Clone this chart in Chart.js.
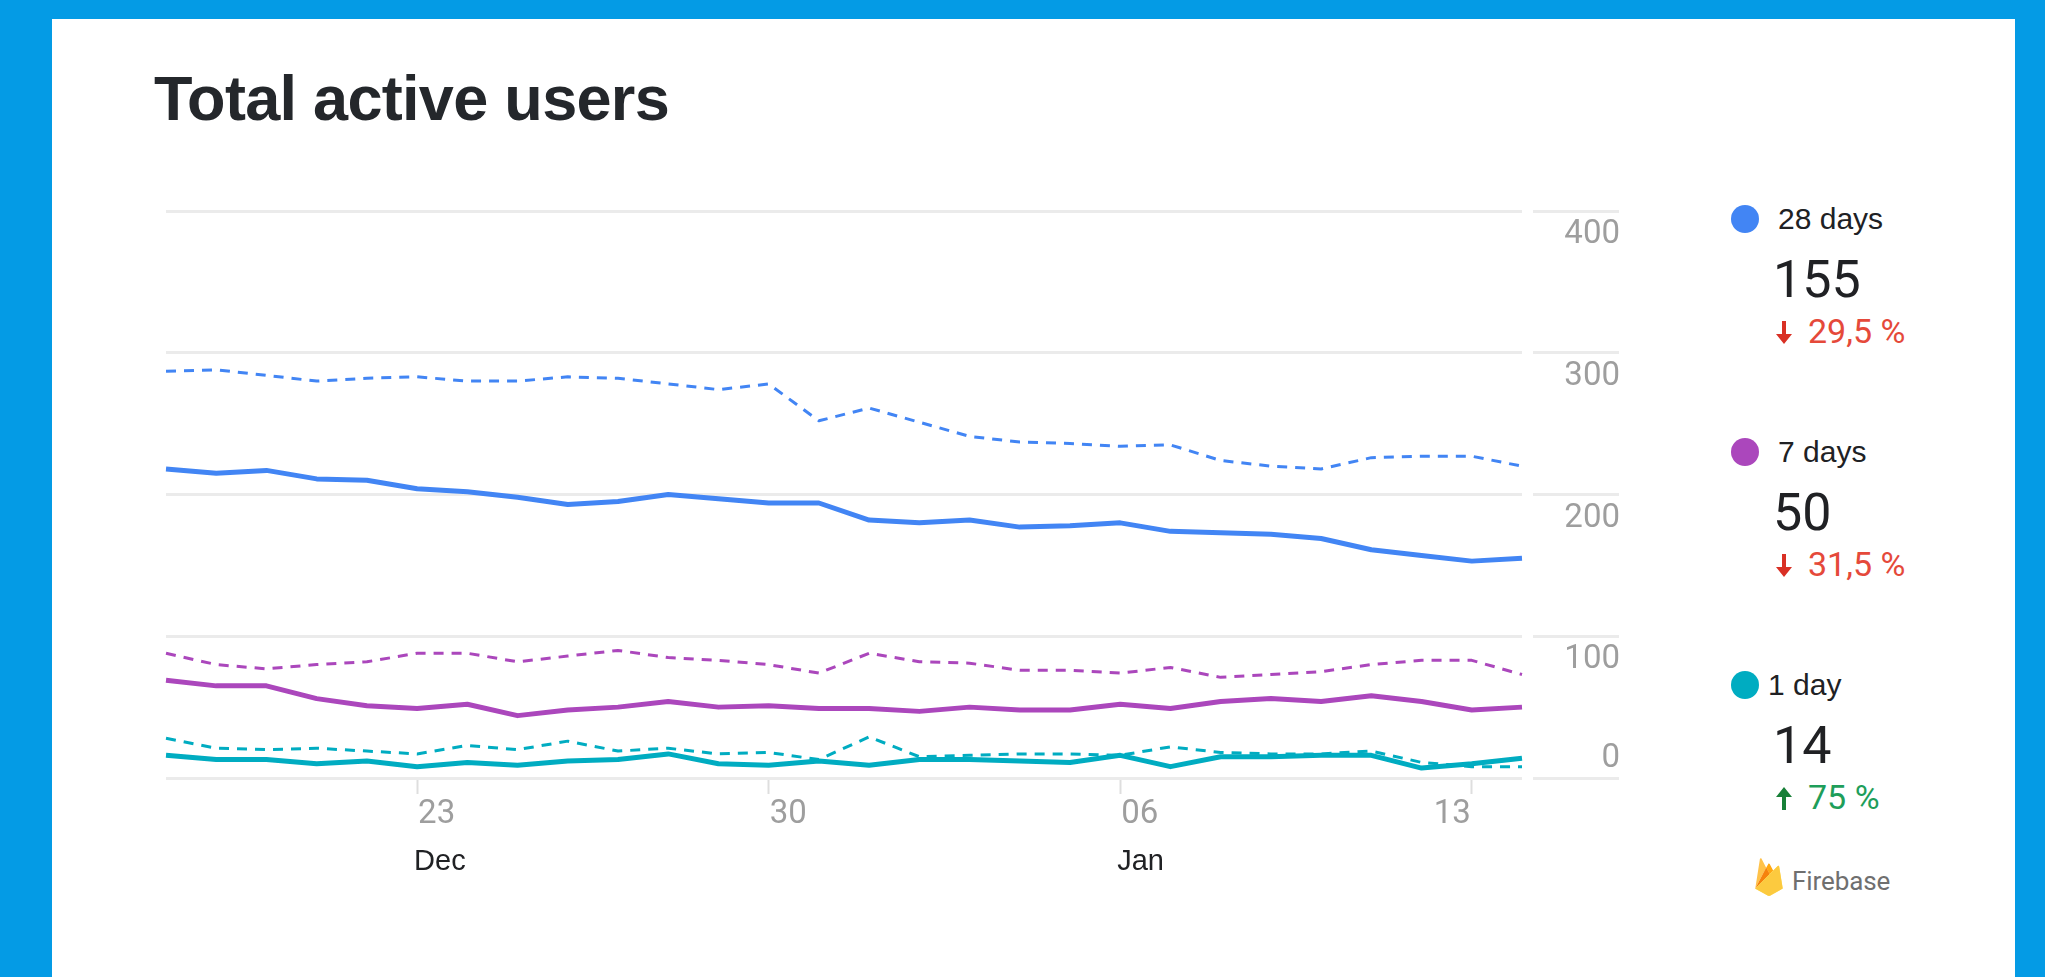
<!DOCTYPE html>
<html lang="en">
<head>
<meta charset="UTF-8">
<title>Total active users</title>
<style>
  body { margin: 0; width: 2045px; height: 977px; overflow: hidden; position: relative; background: #049be5; }
  .card { position: absolute; left: 52px; top: 19px; width: 1963px; height: 958px; background: #fff; }
  h1 { position: absolute; left: 154px; top: 67px; margin: 0; font: bold 63px/63px "Liberation Sans", Arial, sans-serif; letter-spacing: -0.7px; color: #24272b; white-space: nowrap; }
  #grafico { position: absolute; left: 100px; top: 150px; }
  .dot { position: absolute; left: 1731px; width: 28px; height: 28px; border-radius: 50%; }
  .name { position: absolute; font: 30px/30px "Liberation Sans", Arial, sans-serif; color: #202124; white-space: nowrap; }
  .value { position: absolute; left: 1773px; font: 52px/52px Roboto, sans-serif; color: #202124; }
  .change { position: absolute; left: 1776px; font: 34px/34px Roboto, sans-serif; white-space: nowrap; }
  .change svg { vertical-align: -1px; margin-right: 16px; }
  .brand { position: absolute; left: 1755px; top: 858px; }
  .brand span { position: absolute; left: 37px; top: 10px; font: 26px/26px Roboto, sans-serif; letter-spacing: -0.1px; color: #6f6f6f; white-space: nowrap; }
</style>
</head>
<body>
  <div class="card"></div>
  <h1>Total active users</h1>
  <canvas id="grafico" width="1600" height="750"></canvas>
  <div id="legenda"></div>
  <div class="brand">
    <svg width="28" height="38" viewBox="0 0 256 351">
      <path fill="#FFC24A" d="M1.3 280.7l1.6-3.1 99.3-188.5-44.1-83.5C54.4-1.3 45.1.5 43.9 8.2z"/>
      <path fill="#FFA712" d="M134.4 149l32-32.8-32-61c-3-5.8-10.4-6.4-13.4-.6l-17.7 34.1-.5 1.7z"/>
      <path fill="#F6820C" d="M0 283l1-1 3.5-1.4 128.4-128 1.7-4.4-32.1-61.1z"/>
      <path fill="#FDE068" d="M139.1 347.6l116.3-64.9-33.2-204.5c-1-6.4-8.9-8.9-13.5-4.3L0 283l115.6 64.5a24.1 24.1 0 0 0 23.5.1"/>
      <path fill="#FCCA3F" d="M254.4 282.2L221.4 79.2c-1-6.4-7.6-9-12.1-4.4L1.3 282.6l114.3 63.9a23.9 23.9 0 0 0 23.3 0z"/>
    </svg>
    <span>Firebase</span>
  </div>

  <script src="https://cdn.jsdelivr.net/npm/chart.js"></script>
  <script>
    // daily totals, 18 Dec to 14 Jan
    const dates = ['Dec 18', 'Dec 19', 'Dec 20', 'Dec 21', 'Dec 22', 'Dec 23', 'Dec 24',
                   'Dec 25', 'Dec 26', 'Dec 27', 'Dec 28', 'Dec 29', 'Dec 30', 'Dec 31',
                   'Jan 01', 'Jan 02', 'Jan 03', 'Jan 04', 'Jan 05', 'Jan 06', 'Jan 07',
                   'Jan 08', 'Jan 09', 'Jan 10', 'Jan 11', 'Jan 12', 'Jan 13', 'Jan 14'];

    const users28     = [218, 215, 217, 211, 210, 204, 202, 198, 193, 195, 200, 197, 194, 194,
                         182, 180, 182, 177, 178, 180, 174, 173, 172, 169, 161, 157, 153, 155];
    const users28Prev = [287, 288, 284, 280, 282, 283, 280, 280, 283, 282, 278, 274, 278, 252,
                         261, 251, 241, 237, 236, 234, 235, 224, 220, 218, 226, 227, 227, 220];
    const users7      = [69, 65, 65, 56, 51, 49, 52, 44, 48, 50, 54, 50, 51, 49,
                         49, 47, 50, 48, 48, 52, 49, 54, 56, 54, 58, 54, 48, 50];
    const users7Prev  = [88, 80, 77, 80, 82, 88, 88, 82, 86, 90, 85, 83, 80, 74,
                         88, 82, 81, 76, 76, 74, 78, 71, 73, 75, 80, 83, 83, 73];
    const users1      = [16, 13, 13, 10, 12, 8, 11, 9, 12, 13, 17, 10, 9, 12,
                         9, 13, 13, 12, 11, 16, 8, 15, 15, 16, 16, 7, 10, 14];
    const users1Prev  = [28, 21, 20, 21, 19, 17, 23, 20, 26, 19, 21, 17, 18, 13,
                         29, 15, 16, 17, 17, 16, 22, 18, 17, 17, 19, 11, 8, 8];

    const yTicks = [0, 100, 200, 300, 400];
    const tickDates = ['Dec 23', 'Dec 30', 'Jan 06', 'Jan 13'];
    const monthDates = ['Dec 23', 'Jan 06'];

    const seriesNames = ['28 days', '7 days', '1 day'];
    const seriesColors = ['#4285f4', '#ab47bc', '#00acc1'];
    const current = [users28, users7, users1];
    const previous = [users28Prev, users7Prev, users1Prev];

    // dashed = previous period, solid = current period
    const datasets = [];
    current.forEach((serie, i) => {
      datasets.push({
        label: seriesNames[i] + ' (previous)',
        data: previous[i],
        borderColor: seriesColors[i],
        borderWidth: 3,
        borderDash: [10, 8]
      });
      datasets.push({
        label: seriesNames[i],
        data: serie,
        borderColor: seriesColors[i],
        borderWidth: 5
      });
    });

    // axis texts: values under their gridline (the lowest one above it),
    // day numbers beside their tick mark, month names under the days
    const axisLabels = {
      id: 'axisLabels',
      afterDraw(chart) {
        const { ctx, chartArea, scales: { x, y } } = chart;
        ctx.save();
        ctx.font = '33px Roboto';
        ctx.fillStyle = '#9e9e9e';
        ctx.textAlign = 'right';
        yTicks.forEach(v => {
          const py = y.getPixelForValue(v);
          ctx.fillText(String(v), chartArea.right + 98, v === yTicks[0] ? py - 11 : py + 32);
        });
        tickDates.forEach((d, i) => {
          const px = x.getPixelForValue(dates.indexOf(d));
          const last = i === tickDates.length - 1;
          ctx.textAlign = last ? 'right' : 'left';
          ctx.fillText(d.slice(-2), last ? px - 1 : px + 1, chartArea.bottom + 45);
        });
        ctx.font = '29px "Liberation Sans"';
        ctx.fillStyle = '#202124';
        ctx.textAlign = 'left';
        monthDates.forEach(d => {
          const px = x.getPixelForValue(dates.indexOf(d));
          ctx.fillText(d.slice(0, 3), px - 3, chartArea.bottom + 92);
        });
        ctx.restore();
      }
    };

    const ctx = document.getElementById('grafico');

    const grafico = new Chart(ctx, {
      type: 'line',
      data: { labels: dates, datasets: datasets },
      options: {
        responsive: false,
        animation: false,
        events: [],
        layout: { padding: { left: 66, top: 61, right: 81, bottom: 106 } },
        plugins: { legend: { display: false }, tooltip: { enabled: false } },
        elements: {
          point: { radius: 0 },
          line: { tension: 0, borderJoinStyle: 'round', fill: false }
        },
        scales: {
          x: {
            offset: false,
            afterBuildTicks: axis => {
              axis.ticks = tickDates.map(d => ({ value: dates.indexOf(d) }));
            },
            border: { display: false },
            grid: { drawOnChartArea: false, tickLength: 16, tickColor: '#dedede', tickWidth: 2 },
            ticks: { display: false, autoSkip: false }
          },
          y: {
            position: 'right',
            min: 0,
            max: 400,
            afterBuildTicks: axis => {
              axis.ticks = yTicks.map(v => ({ value: v }));
            },
            border: { display: false },
            grid: {
              color: '#ebebeb',
              lineWidth: 3,
              tickLength: 97,
              tickColor: '#ebebeb',
              tickWidth: 3,
              // leave a small gap between the plot and the label part of each line
              tickBorderDash: [86, 11],
              tickBorderDashOffset: 86
            },
            ticks: { display: false }
          }
        }
      },
      plugins: [axisLabels]
    });

    // small arrow icons for the change figures
    const arrowDown = '<svg width="16" height="23" viewBox="0 0 16 23"><path d="M6 0h4v13h6L8 23 0 13h6z"/></svg>';
    const arrowUp = '<svg width="16" height="23" viewBox="0 0 16 23"><path d="M6 23h4V10h6L8 0 0 10h6z"/></svg>';

    // summary column: latest value and change against the previous period
    const legenda = document.getElementById('legenda');
    const nameLeft = [1778, 1778, 1768];
    current.forEach((serie, i) => {
      const cy = 219 + i * 233;
      const now = serie[serie.length - 1];
      const before = previous[i][previous[i].length - 1];
      const pct = (now / before - 1) * 100;
      const pctText = String(Math.round(Math.abs(pct) * 10) / 10).replace('.', ',') + ' %';
      const up = pct >= 0;

      legenda.insertAdjacentHTML('beforeend',
        '<div class="dot" style="top:' + (cy - 14) + 'px;background:' + seriesColors[i] + '"></div>' +
        '<div class="name" style="left:' + nameLeft[i] + 'px;top:' + (cy - 15) + 'px">' + seriesNames[i] + '</div>' +
        '<div class="value" style="top:' + (cy + 35) + 'px">' + now + '</div>' +
        '<div class="change" style="top:' + (cy + 95) + 'px;color:' + (up ? '#1e9e5a' : '#e5493a') + ';fill:' + (up ? '#188038' : '#d93025') + '">' +
          (up ? arrowUp : arrowDown) + pctText + '</div>');
    });
  </script>
</body>
</html>
